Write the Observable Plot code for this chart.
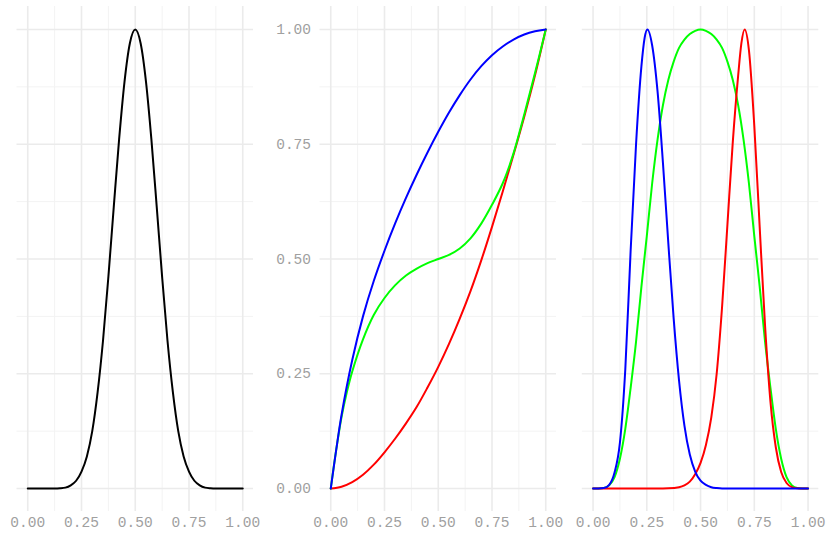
<!DOCTYPE html>
<html><head><meta charset="utf-8">
<script src="https://cdn.jsdelivr.net/npm/d3@7"></script>
<script src="https://cdn.jsdelivr.net/npm/@observablehq/plot@0.6"></script>
<style>
body{margin:0;background:#fff;}
#chart{position:relative;width:829px;height:533px;overflow:hidden;background:#fff;}
</style></head><body><div id="chart"></div>
<script>
// tick values
const majorTicks = [0, 0.25, 0.5, 0.75, 1];
const minorTicks = [0.125, 0.375, 0.625, 0.875];

// panel 1 (black)
const p1X = [0,0.025,0.05,0.075,0.1,0.125,0.15,0.175,0.2,0.225,0.25,0.275,0.3,0.325,0.35,0.375,0.4,0.425,0.45,0.475,0.5,0.525,0.55,0.575,0.6,0.625,0.65,0.675,0.7,0.725,0.75,0.775,0.8,0.825,0.85,0.875,0.9,0.925,0.95,0.975,1];
const p1Black = [0,0,0,0,0,0,0.0005,0.002,0.007,0.017,0.037,0.07,0.125,0.21,0.322,0.461,0.613,0.761,0.886,0.97,1,0.97,0.886,0.761,0.613,0.461,0.322,0.21,0.125,0.07,0.037,0.017,0.007,0.002,0.0005,0,0,0,0,0,0];

// panel 2
const p2BlueX = [0,0.025,0.05,0.1,0.15,0.2,0.25,0.3,0.35,0.4,0.45,0.5,0.55,0.6,0.65,0.7,0.75,0.8,0.85,0.9,0.95,1];
const p2Blue  = [0,0.083,0.16,0.28,0.375,0.452,0.518,0.578,0.633,0.684,0.732,0.777,0.819,0.857,0.891,0.92,0.944,0.963,0.978,0.989,0.996,1];
const p2RedX  = [0,0.05,0.1,0.15,0.2,0.25,0.3,0.35,0.4,0.45,0.5,0.55,0.6,0.65,0.7,0.75,0.8,0.85,0.9,0.95,1];
const p2Red   = [0,0.004,0.014,0.03,0.052,0.079,0.109,0.142,0.178,0.22,0.265,0.315,0.37,0.43,0.497,0.57,0.647,0.727,0.81,0.9,1];
const p2GreenX = [0,0.025,0.05,0.075,0.1,0.15,0.2,0.25,0.3,0.35,0.4,0.45,0.5,0.55,0.6,0.65,0.7,0.75,0.8,0.85,0.9,0.95,1];
const p2Green  = [0,0.083,0.155,0.21,0.255,0.325,0.378,0.415,0.443,0.464,0.479,0.491,0.5,0.509,0.523,0.545,0.577,0.618,0.665,0.73,0.815,0.905,1];

// panel 3
const p3GreenX = [0,0.025,0.05,0.075,0.1,0.125,0.15,0.175,0.2,0.225,0.25,0.275,0.3,0.325,0.35,0.375,0.4,0.425,0.45,0.475,0.5,0.525,0.55,0.575,0.6,0.625,0.65,0.675,0.7,0.725,0.75,0.775,0.8,0.825,0.85,0.875,0.9,0.925,0.95,0.975,1];
const p3Green  = [0,0,0.001,0.007,0.025,0.065,0.13,0.22,0.32,0.44,0.55,0.665,0.76,0.835,0.89,0.93,0.96,0.978,0.99,0.997,1,0.997,0.99,0.978,0.96,0.93,0.89,0.835,0.76,0.665,0.55,0.44,0.32,0.22,0.13,0.065,0.025,0.007,0.001,0,0];
const p3BlueX = [0,0.025,0.05,0.075,0.1,0.125,0.15,0.175,0.2,0.225,0.24,0.253,0.275,0.3,0.325,0.35,0.375,0.4,0.425,0.45,0.475,0.5,0.525,0.55,0.575,0.6,0.7,0.8,0.9,1];
const p3Blue  = [0,0,0.001,0.008,0.035,0.1,0.26,0.52,0.75,0.92,0.982,1,0.965,0.865,0.71,0.535,0.37,0.235,0.137,0.074,0.037,0.017,0.008,0.003,0.001,0,0,0,0,0];
const p3RedX = [0,0.1,0.2,0.3,0.35,0.4,0.425,0.45,0.475,0.5,0.525,0.55,0.575,0.6,0.625,0.65,0.675,0.69,0.705,0.725,0.75,0.775,0.8,0.825,0.85,0.875,0.9,0.925,0.95,0.975,1];
const p3Red  = [0,0,0,0,0.0005,0.003,0.007,0.015,0.031,0.056,0.095,0.155,0.25,0.395,0.575,0.755,0.9,0.97,1,0.955,0.79,0.57,0.355,0.19,0.09,0.036,0.012,0.003,0.0005,0,0];

const fmt = d3.format(".2f");
const rows = (xs, ys) => xs.map((x, i) => ({x, y: ys[i]}));

function panel(left, width, mL, mR, series, showY, curve) {
  const marks = [
    Plot.ruleX(minorTicks, {x: d => d, stroke: "#f3f3f3", strokeWidth: 1}),
    Plot.ruleY(minorTicks, {y: d => d, stroke: "#f3f3f3", strokeWidth: 1}),
    Plot.ruleX(majorTicks, {x: d => d, stroke: "#ebebeb", strokeWidth: 1.6}),
    Plot.ruleY(majorTicks, {y: d => d, stroke: "#ebebeb", strokeWidth: 1.6}),
    Plot.axisX(majorTicks, {tickSize: 0, tickPadding: 5, tickFormat: fmt, label: null}),
    showY ? Plot.axisY(majorTicks, {tickSize: 0, tickPadding: 9, tickFormat: fmt, label: null}) : null,
    ...series.map(s => Plot.line(rows(s.x, s.y), {x: "x", y: "y", stroke: s.color, strokeWidth: 2, curve}))
  ];
  const svg = Plot.plot({
    width, height: 533,
    marginLeft: mL, marginRight: mR, marginTop: 6, marginBottom: 22,
    x: {domain: [-0.05, 1.05], label: null},
    y: {domain: [-0.05, 1.05], label: null, axis: showY ? undefined : null},
    style: {fontFamily: "'Liberation Mono', monospace", fontSize: "14.5px", color: "#a0a0a0", background: "transparent", overflow: "visible"},
    marks
  });
  svg.style.position = "absolute";
  svg.style.left = left + "px";
  svg.style.top = "0px";
  document.getElementById("chart").appendChild(svg);
}

panel(0, 265, 16.5, 12, [{x: p1X, y: p1Black, color: "#000000"}], false, "monotone-x");
panel(265, 300, 54.5, 9, [
  {x: p2RedX, y: p2Red, color: "#ff0000"},
  {x: p2GreenX, y: p2Green, color: "#00ff00"},
  {x: p2BlueX, y: p2Blue, color: "#0000ff"}
], true, "catmull-rom");
panel(565, 264, 16.8, 10.7, [
  {x: p3GreenX, y: p3Green, color: "#00ff00"},
  {x: p3RedX, y: p3Red, color: "#ff0000"},
  {x: p3BlueX, y: p3Blue, color: "#0000ff"}
], false, "monotone-x");
</script></body></html>
